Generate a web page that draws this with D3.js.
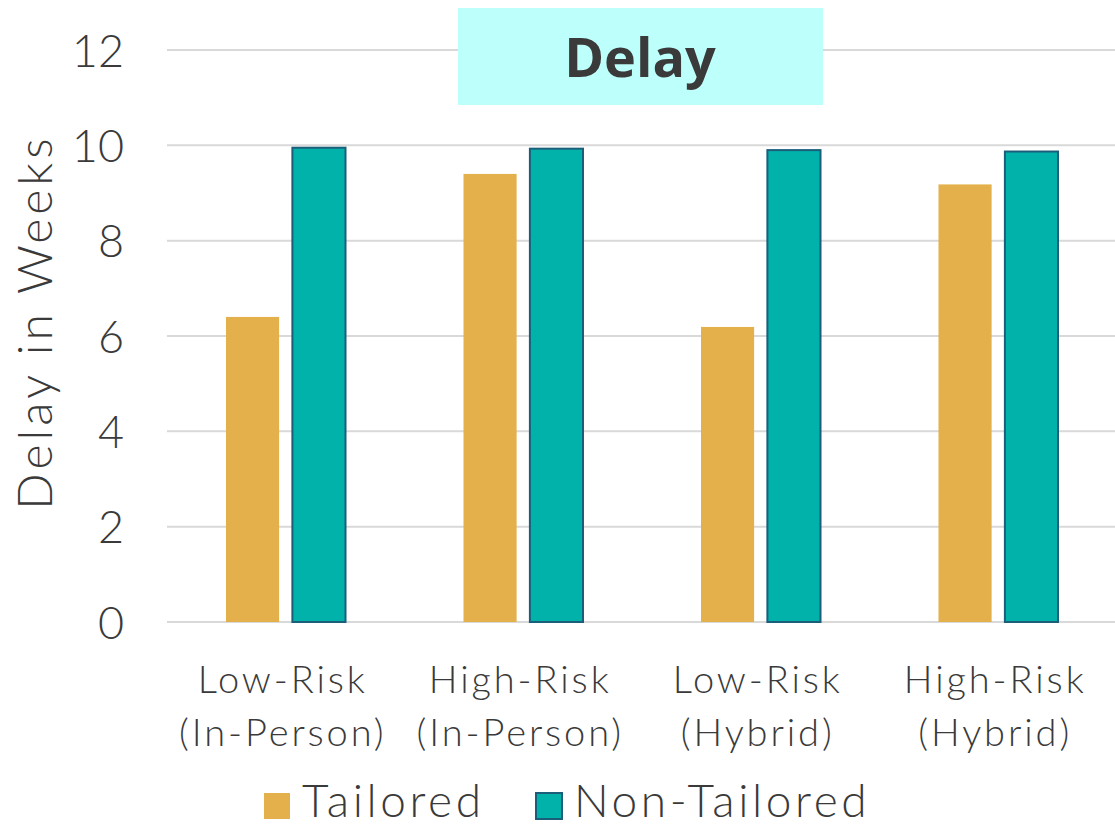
<!DOCTYPE html>
<html>
<head>
<meta charset="utf-8">
<script src="https://cdn.jsdelivr.net/npm/d3@7"></script>
<style>
  html, body { margin: 0; padding: 0; background: #fff; }
  svg { display: block; }
  text { font-family: "Lato", "Open Sans", sans-serif; font-weight: 300; fill: #3a3a3a; }
</style>
</head>
<body>
<svg id="chart" width="1115" height="826"></svg>
<script>
// Delay (weeks) by risk group and delivery mode
const categories = [
  ["Low-Risk", "(In-Person)"],
  ["High-Risk", "(In-Person)"],
  ["Low-Risk", "(Hybrid)"],
  ["High-Risk", "(Hybrid)"]
];
const seriesNames = ["Tailored", "Non-Tailored"];
const tailored = [6.40, 9.40, 6.19, 9.18];
const nonTailored = [9.95, 9.93, 9.90, 9.87];
const yTicks = [0, 2, 4, 6, 8, 10, 12];

const colors = { "Tailored": "#E3B04B", "Non-Tailored": "#00B2A9" };
const strokes = { "Tailored": "none", "Non-Tailored": "#1B5E7A" };

const svg = d3.select("#chart");
const plot = { left: 167, right: 1117, top: 50, bottom: 622 };

const keys = categories.map(c => c.join(" "));
const x0 = d3.scaleBand().domain(keys).range([plot.left, plot.right]).padding(0);
const x1 = d3.scaleBand().domain(seriesNames)
  .range([59, x0.bandwidth() - 59]).paddingInner(0.2);
const y = d3.scaleLinear().domain([0, 12]).range([plot.bottom, plot.top]);

// gridlines
svg.append("g")
  .selectAll("line")
  .data(yTicks)
  .join("line")
  .attr("x1", plot.left).attr("x2", plot.right)
  .attr("y1", d => y(d)).attr("y2", d => y(d))
  .attr("stroke", "#D9D9D9").attr("stroke-width", 2);

// y axis labels
const yAxis = d3.axisLeft(y).tickValues(yTicks).tickSize(0).tickPadding(0);
const gy = svg.append("g").attr("transform", "translate(124,0)").call(yAxis);
gy.select(".domain").remove();
gy.selectAll("text")
  .style("font-family", "Lato, sans-serif")
  .style("font-weight", "300")
  .style("font-size", "45px")
  .attr("fill", "#3a3a3a")
  .attr("dy", "0.36em");

// y axis title
svg.append("text")
  .attr("transform", `translate(52, 322) rotate(-90)`)
  .attr("text-anchor", "middle")
  .style("font-size", "48px")
  .style("letter-spacing", "4px")
  .text("Delay in Weeks");

// bars
const rows = keys.map((k, i) => ({ key: k, values: [
  { s: "Tailored", v: tailored[i] },
  { s: "Non-Tailored", v: nonTailored[i] }
]}));

const groups = svg.append("g").selectAll("g")
  .data(rows).join("g")
  .attr("transform", d => `translate(${x0(d.key)},0)`);

groups.selectAll("rect")
  .data(d => d.values)
  .join("rect")
  .attr("x", d => x1(d.s))
  .attr("width", x1.bandwidth())
  .attr("y", d => y(d.v))
  .attr("height", d => y(0) - y(d.v))
  .attr("fill", d => colors[d.s])
  .attr("stroke", d => strokes[d.s])
  .attr("stroke-width", 2);

// category labels (two lines)
const xl = svg.append("g");
categories.forEach((c, i) => {
  const cx = x0(keys[i]) + x0.bandwidth() / 2 - 3;
  const t = xl.append("text")
    .attr("x", cx).attr("text-anchor", "middle")
    .style("font-size", "38px")
    .style("letter-spacing", "2.9px");
  t.append("tspan").attr("x", cx).attr("y", 693).text(c[0]);
  t.append("tspan").attr("x", cx).attr("y", 746).text(c[1]);
});

// title box
const titleBox = svg.append("g");
titleBox.append("rect")
  .attr("x", 458).attr("y", 8).attr("width", 365).attr("height", 97)
  .attr("fill", "#BCFFFB");
titleBox.append("text")
  .attr("x", 640).attr("y", 77)
  .attr("text-anchor", "middle")
  .style("font-family", "'Open Sans', sans-serif")
  .style("font-weight", "700")
  .style("font-size", "54px")
  .attr("fill", "#333333")
  .text("Delay");

// legend
const legendItems = [
  { s: "Tailored", x: 264 },
  { s: "Non-Tailored", x: 536 }
];
const lg = svg.append("g");
legendItems.forEach(it => {
  lg.append("rect")
    .attr("x", it.x).attr("y", 793).attr("width", 26).attr("height", 26)
    .attr("fill", colors[it.s])
    .attr("stroke", strokes[it.s]).attr("stroke-width", 2);
  lg.append("text")
    .attr("x", it.x + 38).attr("y", 817)
    .style("font-size", "46px")
    .style("letter-spacing", "3.6px")
    .text(it.s);
});
</script>
</body>
</html>
